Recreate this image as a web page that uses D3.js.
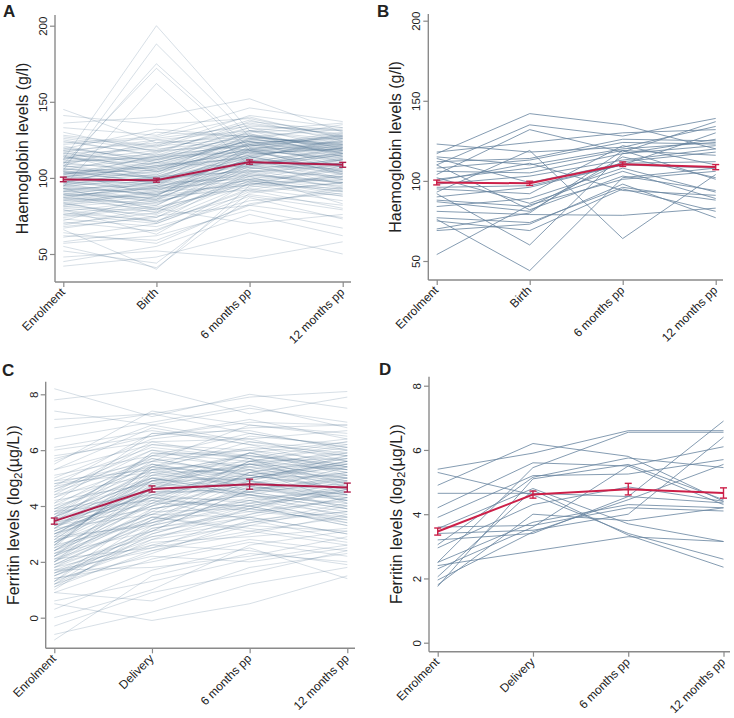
<!DOCTYPE html>
<html><head><meta charset="utf-8">
<script src="https://cdn.jsdelivr.net/npm/d3@7"></script>
<style>body{margin:0;background:#fff}svg{display:block}text{font-family:Arial,"Liberation Sans",sans-serif;fill:#222}</style>
</head><body>
<svg id="chart" width="734" height="718"></svg>
<script>
const hbTimepoints = ["Enrolment","Birth","6 months pp","12 months pp"];
const ferTimepoints = ["Enrolment","Delivery","6 months pp","12 months pp"];
const hbTicks = [50,100,150,200];
const ferTicks = [0,2,4,6,8];
const hbMean = [99.0, 98.5, 110.4, 108.6];
const hbCI = [1.5, 1.3, 1.4, 1.6];
const ferMean = [3.46, 4.61, 4.78, 4.66];
const ferCI = [0.11, 0.11, 0.18, 0.16];

// Panel A: all participants, haemoglobin (g/l)
const hbAll = [
[118,108,125,121],[96,112,118,104],[104,88,121,127],[87,95,102,98],[112,200,131,116],[75,82,109,96],[101,97,114,123],[93,79,106,112],[126,118,133,119],[82,91,95,108],
[108,125,118,129],[99,104,122,111],[68,74,98,91],[115,99,113,126],[91,86,119,102],[105,188,127,122],[84,71,103,94],[110,116,137,131],[97,92,108,117],[121,110,124,107],
[72,88,92,103],[103,108,116,119],[89,77,111,99],[128,121,141,133],[94,101,104,113],[79,63,97,88],[113,122,129,114],[100,94,110,120],[58,66,88,79],[107,175,120,118],
[86,98,115,106],[117,104,122,128],[92,84,101,97],[102,110,126,116],[64,57,83,92],[111,113,119,124],[95,89,113,105],[133,128,146,137],[81,86,99,110],[106,100,117,109],
[90,80,96,101],[119,132,127,121],[98,102,123,126],[76,70,93,85],[109,172,118,113],[85,94,107,115],[124,115,131,125],[93,90,112,100],[52,44,90,97],[104,107,121,130],
[88,93,98,91],[114,105,128,119],[70,77,101,83],[97,99,109,116],[141,135,139,127],[83,74,104,108],[105,117,124,114],[96,88,118,122],[62,59,82,74],[110,104,115,120],
[89,97,111,103],[122,126,134,131],[78,85,96,99],[101,95,119,112],[94,162,108,106],[116,119,125,135],[87,83,105,96],[107,112,129,118],[66,40,95,88],[99,96,112,109],
[113,109,123,127],[80,76,100,92],[102,114,117,121],[91,93,103,112],[127,120,138,124],[74,81,94,101],[108,99,126,117],[95,106,114,104],[48,52,47,58],[120,111,130,133],
[86,79,108,115],[103,101,120,110],[92,97,99,95],[136,140,152,130],[77,72,89,82],[111,118,121,126],[98,91,116,119],[84,89,107,100],[106,103,131,123],[57,62,79,67],
[115,112,124,116],[93,86,110,108],[100,108,113,125],[71,65,91,97],[118,123,136,128],[88,94,104,93],[104,97,122,114],[81,78,98,106],[125,114,128,120],[96,100,111,118],
[45,55,76,62],[109,106,119,111],[90,85,114,103],[112,130,127,132],[73,68,85,90],[102,99,115,121],[97,110,107,99],[130,117,135,129],[83,92,101,112],[106,101,118,107],
[61,70,92,80],[114,107,125,122],[94,89,109,116],[100,115,121,113],[79,71,96,93],[117,125,131,136],[91,99,105,101],[105,96,117,124],[69,80,70,76],[110,114,122,117],
[87,82,111,109],[123,127,140,126],[98,93,114,104],[42,48,64,50],[103,105,119,128],[85,90,102,97],[116,110,124,119],[76,84,99,89],[108,102,128,115],[95,98,108,120],
[55,41,87,73],[112,121,126,123],[89,87,106,110],[101,107,117,107],[67,75,82,94],[119,113,133,127],[93,95,112,102],[104,100,123,118],[82,88,97,105],[145,123,127,122]
];

// Panel B: subgroup, haemoglobin (g/l)
const hbSub = [
[117,142,135,120],[110,135,128,139],[104,132,118,137],[123,118,121,134],[118,124,130,132],[112,114,126,125],[108,113,124,123],[115,110,120,124],
[106,105,117,122],[101,108,119,116],[98,103,113,120],[114,99,111,112],[93,119,64,104],[95,92,122,110],[90,96,110,108],[88,84,112,118],
[110,82,103,94],[102,86,106,89],[87,81,115,102],[84,89,108,93],[81,79,78.5,83],[77,74,96,88],[75,69,95,81],[70,80,119,101],
[69,73,98,77],[54,85,101,106],[92,60,117,126],[76,44,102,108],[100,111,94,91],[96,97,110,130]
];

// Panel C: all participants, ferritin log2(µg/L)
const ferAll = [
[3.2,4.8,5.1,4.6],[2.1,3.9,4.4,5.0],[4.5,5.6,5.2,4.9],[1.6,3.2,3.8,3.5],[3.8,4.2,5.6,5.3],[2.7,5.1,4.9,4.2],[5.3,6.2,5.8,5.5],[1.3,2.6,3.4,4.1],[3.5,4.9,4.3,3.8],[2.4,4.4,5.3,5.9],
[6.8,7.3,6.6,6.1],[0.9,2.1,2.8,2.4],[3.0,4.0,4.9,4.5],[4.1,5.4,6.1,5.8],[2.2,3.6,3.1,3.6],[3.7,5.8,5.4,4.7],[1.8,3.1,4.6,4.9],[4.8,5.2,4.7,5.2],[2.9,4.6,5.7,4.4],[-0.8,1.5,2.3,2.0],
[3.3,4.3,3.9,4.8],[2.0,4.7,5.0,5.6],[5.7,6.5,7.1,6.4],[1.5,2.9,3.6,3.0],[3.6,5.0,5.5,5.1],[2.6,3.4,4.2,4.6],[4.3,6.0,5.3,4.1],[1.2,3.3,4.8,3.9],[3.1,4.5,4.5,5.4],[8.2,7.2,8.0,7.5],
[2.3,4.1,4.0,3.3],[3.9,5.3,6.3,6.0],[1.7,2.4,3.0,3.7],[4.6,5.7,5.1,5.7],[2.8,4.9,5.9,5.2],[0.0,1.0,2.6,3.1],[3.4,4.4,4.7,4.3],[2.5,5.5,4.5,4.0],[5.0,6.4,6.8,6.9],[1.9,3.5,4.1,4.4],
[3.2,3.7,5.2,4.8],[2.0,4.2,3.5,2.8],[4.4,5.1,5.9,6.3],[1.4,2.2,2.0,2.5],[3.6,5.9,5.6,5.0],[2.7,4.0,4.8,5.5],[7.4,6.9,7.5,7.0],[1.1,3.0,3.9,3.4],[3.0,4.7,4.4,3.9],[2.2,3.8,5.5,5.3],
[4.0,5.0,4.6,4.2],[1.6,2.8,3.3,4.0],[3.5,5.6,6.0,5.6],[2.9,3.3,4.0,4.7],[6.1,6.7,6.2,5.9],[0.9,0.6,1.8,2.3],[3.3,4.9,5.3,4.5],[2.4,4.5,4.9,5.8],[4.7,5.4,6.5,6.2],[1.8,3.6,3.2,2.7],
[3.7,4.6,5.0,5.1],[2.1,2.5,3.7,4.3],[5.5,7.4,6.9,6.6],[1.3,3.9,4.5,4.8],[3.1,4.3,4.2,3.7],[2.6,5.2,5.8,5.4],[4.2,4.8,5.5,5.9],[0.5,-0.1,0.5,1.5],[3.8,5.7,5.1,4.6],[2.3,3.1,4.6,5.0],
[4.9,6.1,5.7,4.8],[1.5,2.7,2.9,3.2],[3.4,4.1,5.6,6.1],[2.8,5.0,4.4,3.6],[7.8,8.2,7.3,7.9],[1.9,3.4,4.3,4.5],[3.0,4.6,4.8,5.2],[2.5,3.7,3.6,3.0],[4.5,6.3,6.4,6.7],[1.2,2.3,3.5,3.8],
[3.6,5.3,4.7,4.4],[2.0,3.5,5.2,5.7],[5.1,5.8,6.0,5.3],[-0.6,0.2,1.2,1.8],[3.2,5.1,5.4,5.0],[2.7,4.3,3.8,4.2],[4.1,6.6,6.7,6.0],[1.7,3.0,4.0,3.3],[3.9,4.4,5.0,5.5],[2.2,4.8,4.5,4.0],
[6.4,7.0,7.6,6.8],[1.4,2.0,2.7,2.2],[3.5,4.7,5.9,5.4],[2.9,5.4,5.1,4.7],[4.3,5.5,4.9,5.6],[1.0,3.2,3.7,4.6],[3.3,3.9,4.4,3.9],[2.4,4.0,5.6,6.2],[5.6,6.9,6.3,5.8],[1.6,2.5,3.1,2.6],
[3.7,5.2,5.3,5.0],[2.1,3.3,4.1,4.9],[4.6,6.0,5.7,5.2],[0.3,1.7,2.5,1.4],[3.1,4.5,4.6,4.3],[2.6,4.9,5.0,5.6],[4.8,5.6,6.9,6.5],[1.9,2.9,3.4,3.8],[3.4,5.9,5.8,5.3],[2.3,3.6,4.2,3.4],
[7.1,7.3,7.9,8.1],[1.3,3.5,4.9,4.4],[3.0,4.2,4.0,4.5],[2.7,4.6,5.4,6.0],[5.3,6.8,6.2,5.4],[1.7,1.8,2.2,2.9],[3.8,4.9,5.5,4.9],[2.0,3.8,3.9,4.6],[4.4,6.2,6.0,6.4],[1.1,2.4,3.3,3.1],
[3.6,5.0,4.4,4.1],[2.5,4.1,5.1,5.5],[4.9,5.3,5.6,5.7],[0.6,1.3,2.1,2.6],[3.2,5.4,4.8,4.4],[2.8,3.4,4.7,4.2],[6.0,6.5,7.0,6.9],[1.5,3.1,3.6,4.3],[3.5,4.3,5.2,5.8],[2.2,4.4,4.1,3.5],
[4.0,5.8,6.6,6.1],[1.8,2.6,2.4,1.9],[3.3,4.6,5.9,5.1],[2.6,5.3,5.5,4.8],[5.8,6.3,5.7,6.3],[1.2,2.8,3.9,3.6],[3.9,5.5,5.0,5.4],[2.4,3.7,4.5,5.1],[4.7,6.6,6.4,5.6],[-0.3,0.9,1.6,2.4]
];

// Panel D: subgroup, ferritin log2(µg/L)
const ferSub = [
[5.4,5.9,6.6,6.6],[5.3,4.6,3.4,2.6],[4.9,6.2,5.8,4.4],[4.65,4.65,4.55,4.35],[4.2,5.6,5.5,4.3],[3.9,5.2,5.25,5.7],[3.55,4.8,3.7,3.15],
[3.4,3.5,4.0,6.4],[3.2,3.4,4.55,6.9],[3.05,5.15,5.75,5.45],[2.95,4.3,4.85,4.4],[2.5,3.75,4.3,4.2],[2.4,2.85,3.3,3.15],[2.3,3.6,5.5,6.1],
[2.05,4.75,3.35,2.35],[1.95,3.45,4.45,5.55],[1.75,5.1,5.55,4.45],[1.8,4.0,3.8,4.2],[2.5,5.45,6.55,6.55],[3.6,3.65,4.2,4.1]
];

const svg = d3.select("#chart");

const panels = [
  {letter:"A", lx:3, ly:17, rows:hbAll, cats:hbTimepoints, ticks:hbTicks, mean:hbMean, ci:hbCI, title:["Haemoglobin levels (g/l)"],
   axisX:55, x0:63.3, x1:342.7, xEnd:351, yTop:15, yBot:282, dom:[50,200], rng:[254,25.7], dense:true},
  {letter:"B", lx:377, ly:17, rows:hbSub, cats:hbTimepoints, ticks:hbTicks, mean:hbMean, ci:hbCI, title:["Haemoglobin levels (g/l)"],
   axisX:428.3, x0:436.7, x1:715.7, xEnd:723, yTop:14, yBot:280, dom:[50,200], rng:[261,20.7], dense:false},
  {letter:"C", lx:2, ly:376, rows:ferAll, cats:ferTimepoints, ticks:ferTicks, mean:ferMean, ci:ferCI, title:null,
   axisX:45.7, x0:54.3, x1:347.3, xEnd:355, yTop:381.7, yBot:648.3, dom:[0,8], rng:[617.7,394.3], dense:true},
  {letter:"D", lx:379, ly:375, rows:ferSub, cats:ferTimepoints, ticks:ferTicks, mean:ferMean, ci:ferCI, title:null,
   axisX:429, x0:437.7, x1:723.5, xEnd:730, yTop:376.7, yBot:651.7, dom:[0,8], rng:[642.7,385.7], dense:false}
];

const axisColor = "#8a8a8a";

panels.forEach(p => {
  const g = svg.append("g");
  const x = d3.scalePoint().domain(p.cats).range([p.x0, p.x1]).padding(0);
  const y = d3.scaleLinear().domain(p.dom).range(p.rng);
  const line = d3.line().x((d,i) => x(p.cats[i])).y(d => y(d));
  const redColor = p.dense ? "#b01e4c" : "#cc1f48";

  // individual trajectories
  g.append("g").selectAll("path").data(p.rows).join("path")
    .attr("d", line)
    .attr("fill", "none")
    .attr("stroke", p.dense ? "#4e6f90" : "#67839f")
    .attr("stroke-width", p.dense ? 0.75 : 1)
    .attr("stroke-opacity", p.dense ? 0.3 : 0.8);

  // y axis
  const yAxis = d3.axisLeft(y).tickValues(p.ticks).tickSize(5).tickSizeOuter(0).tickFormat(d3.format("d"));
  const ya = g.append("g").attr("transform", `translate(${p.axisX},0)`).call(yAxis);
  ya.select(".domain").remove();
  ya.append("line").attr("x1",0).attr("x2",0).attr("y1",p.yTop).attr("y2",p.yBot)
    .attr("stroke",axisColor).attr("stroke-width",1.4);
  ya.selectAll(".tick line").attr("stroke",axisColor).attr("stroke-width",1.2);
  ya.selectAll(".tick text")
    .attr("x", null).attr("dy", null)
    .attr("font-size", 11.5).attr("fill","#222")
    .attr("text-anchor","middle")
    .attr("transform","translate(-8,0) rotate(-90)");

  // x axis
  const xAxis = d3.axisBottom(x).tickSize(5).tickSizeOuter(0);
  const xa = g.append("g").attr("transform", `translate(0,${p.yBot})`).call(xAxis);
  xa.select(".domain").remove();
  xa.append("line").attr("x1",p.axisX).attr("x2",p.xEnd).attr("y1",0).attr("y2",0)
    .attr("stroke",axisColor).attr("stroke-width",1.4);
  xa.selectAll(".tick line").attr("stroke",axisColor).attr("stroke-width",1.2);
  xa.selectAll(".tick text")
    .attr("y", null).attr("dy", null)
    .attr("font-size", 12).attr("fill","#222")
    .attr("text-anchor","end")
    .attr("transform","translate(2,11) rotate(-45)");

  // y title
  const ty = (p.yTop + p.yBot) / 2;
  const t = g.append("text")
    .attr("transform", `translate(${p.axisX - 27},${ty}) rotate(-90)`)
    .attr("text-anchor","middle").attr("font-size",16).attr("fill","#222");
  if (p.title) {
    t.text(p.title[0]);
  } else {
    t.append("tspan").text("Ferritin levels (log");
    t.append("tspan").attr("font-size",11).attr("dy",3).text("2");
    t.append("tspan").attr("dy",-3).text("(µg/L))");
  }

  // panel letter
  g.append("text").attr("x",p.lx).attr("y",p.ly).attr("font-size",17).attr("font-weight","bold").attr("fill","#000").text(p.letter);

  // mean line with CIs
  const mg = g.append("g");
  mg.append("path").datum(p.mean).attr("d", line).attr("fill","none")
    .attr("stroke",redColor).attr("stroke-width",2);
  const eb = mg.selectAll("g.eb").data(p.mean.map((m,i)=>({m, c:p.ci[i], k:p.cats[i]}))).join("g");
  eb.append("line").attr("x1",d=>x(d.k)).attr("x2",d=>x(d.k)).attr("y1",d=>y(d.m-d.c)).attr("y2",d=>y(d.m+d.c))
    .attr("stroke",redColor).attr("stroke-width",1.4);
  eb.append("line").attr("x1",d=>x(d.k)-3.5).attr("x2",d=>x(d.k)+3.5).attr("y1",d=>y(d.m-d.c)).attr("y2",d=>y(d.m-d.c))
    .attr("stroke",redColor).attr("stroke-width",1.4);
  eb.append("line").attr("x1",d=>x(d.k)-3.5).attr("x2",d=>x(d.k)+3.5).attr("y1",d=>y(d.m+d.c)).attr("y2",d=>y(d.m+d.c))
    .attr("stroke",redColor).attr("stroke-width",1.4);
});
</script>
</body></html>
